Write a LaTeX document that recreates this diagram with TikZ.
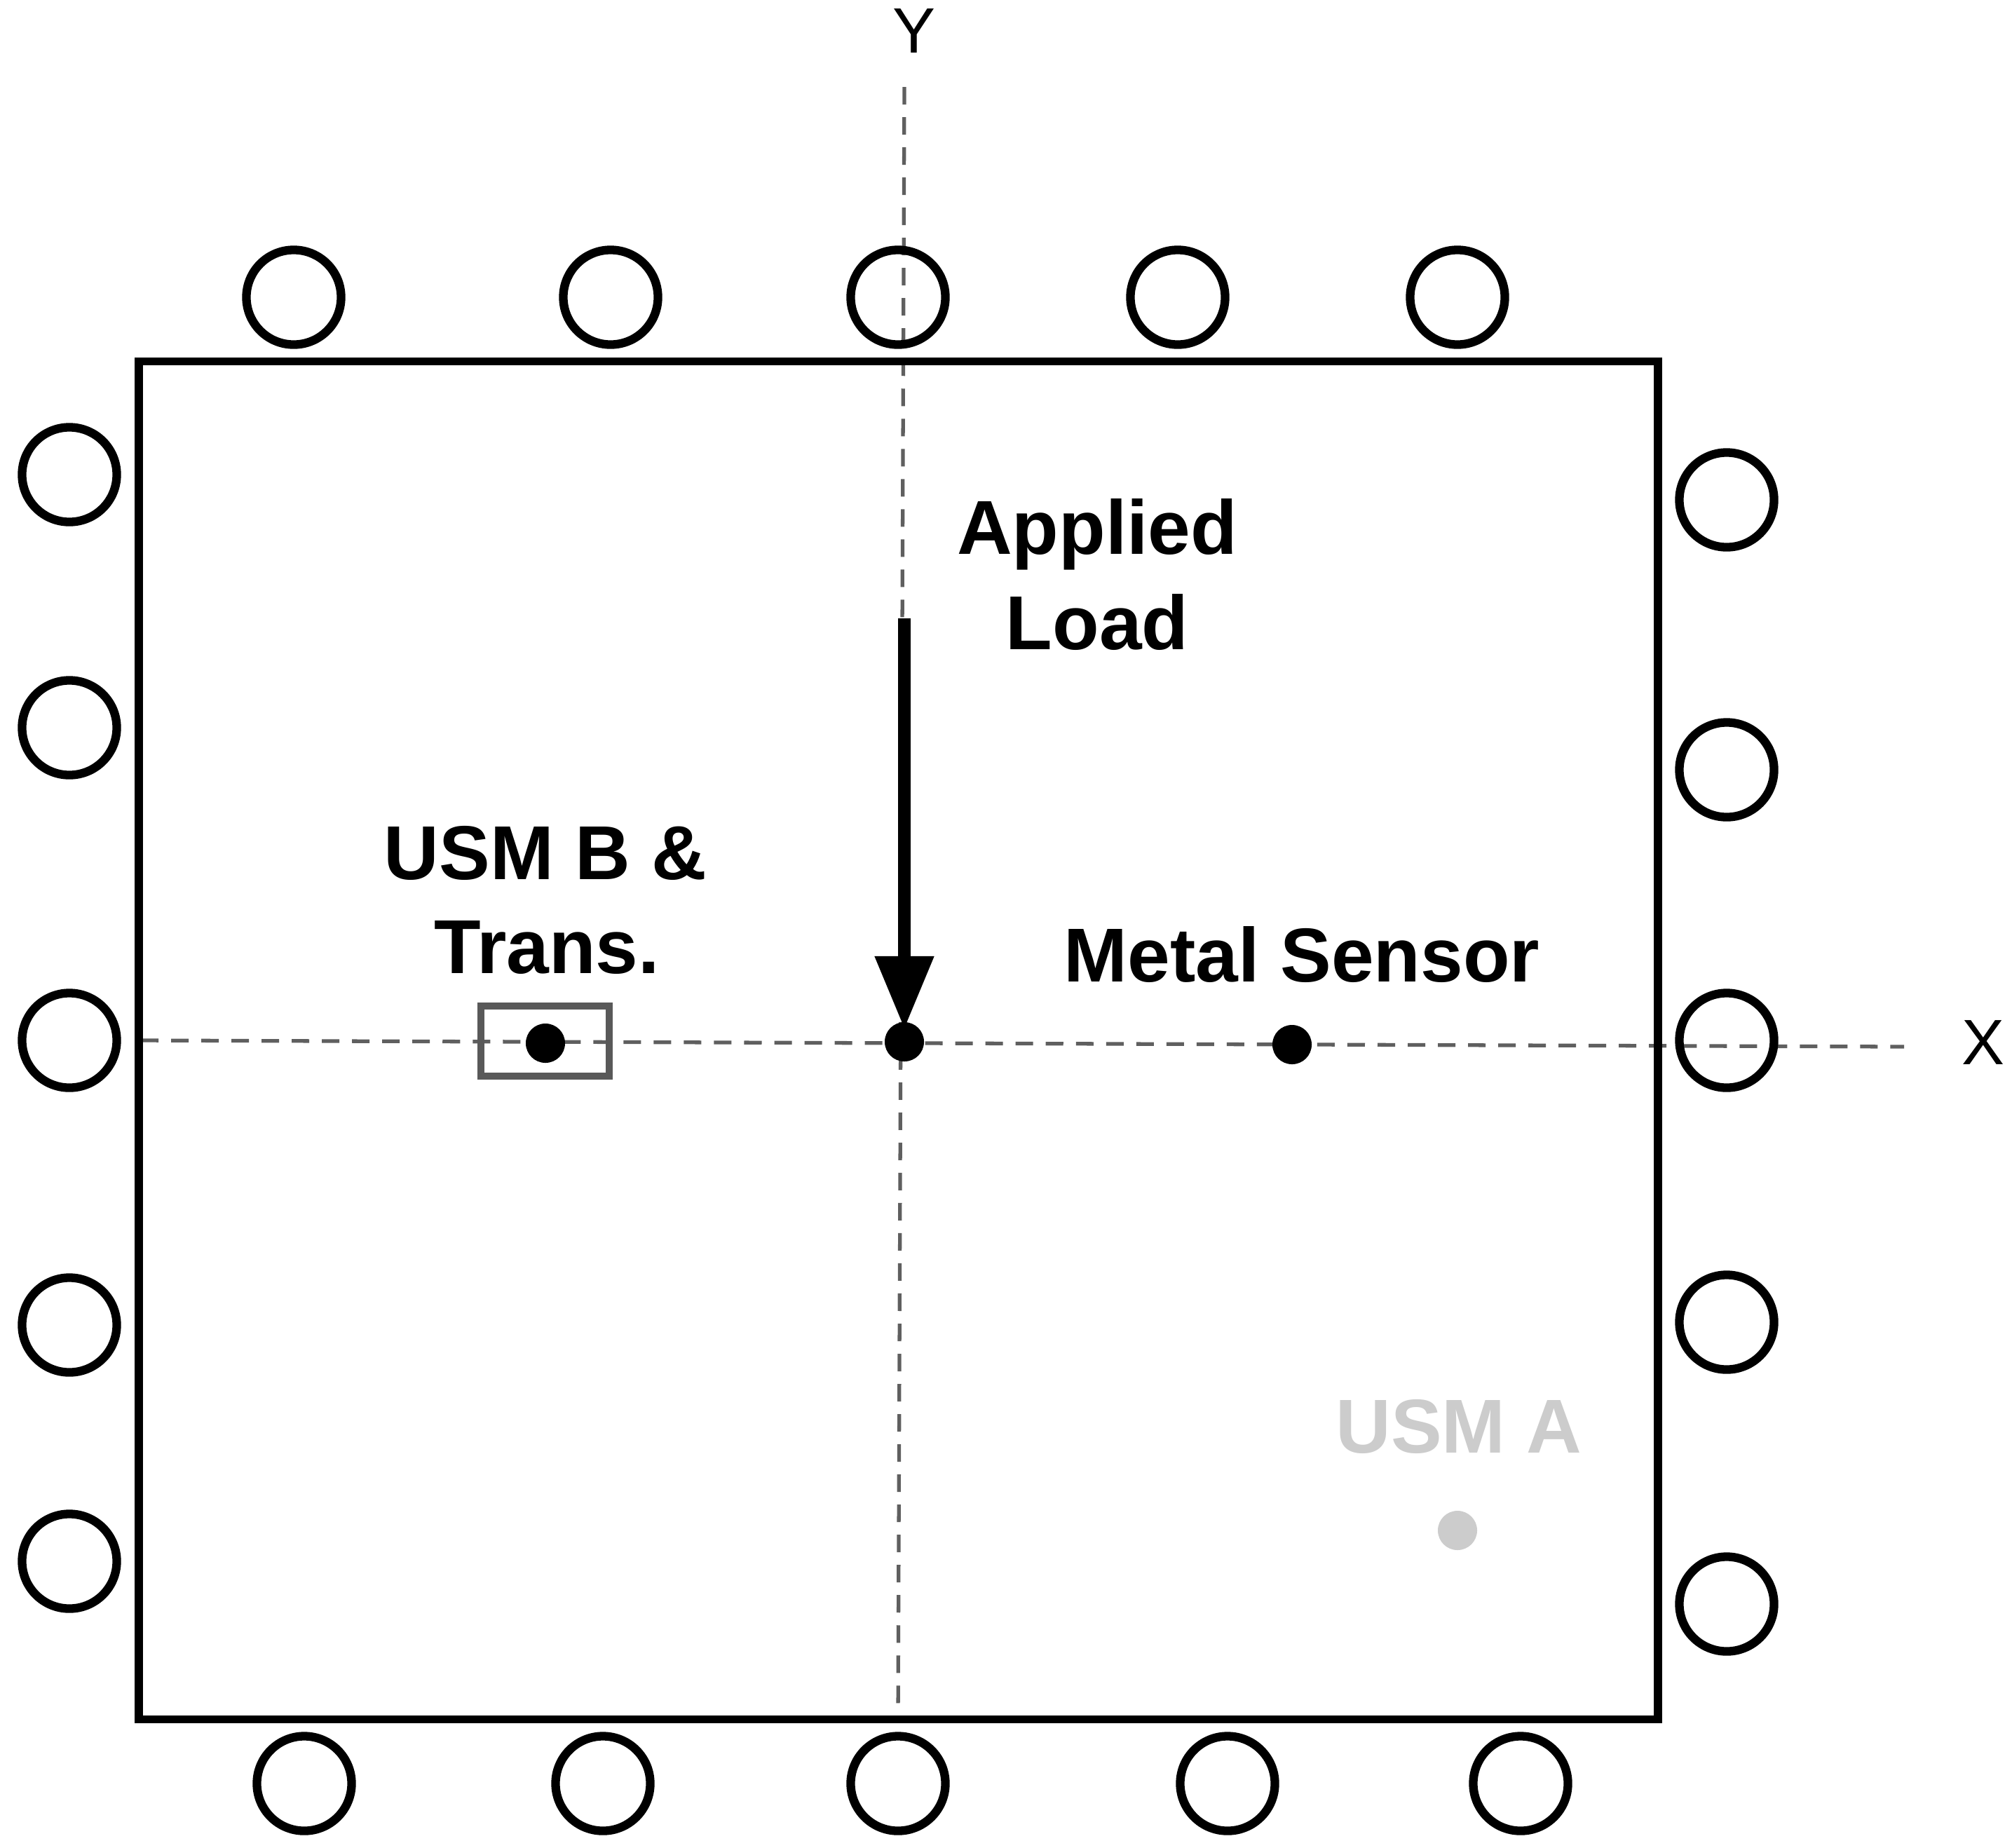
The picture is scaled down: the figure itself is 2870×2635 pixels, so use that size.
\documentclass[tikz,border=0pt]{standalone}
\usepackage{fontspec}
\setmainfont{Liberation Sans}
\usetikzlibrary{arrows.meta}
\definecolor{axisgray}{HTML}{5F5F5F}
\definecolor{boxgray}{HTML}{595959}
\definecolor{usmgray}{HTML}{CCCCCC}
\tikzset{
  roller/.style={circle,draw=black,line width=3.5pt,minimum size=1.35cm,inner sep=0pt},
  plate/.style={rectangle,draw=black,line width=3.3pt,minimum width=21.66cm,minimum height=19.36cm,inner sep=0pt},
  sensorbox/.style={rectangle,draw=boxgray,line width=2.6pt,minimum width=1.83cm,minimum height=1.00cm,inner sep=0pt},
  sensordot/.style={circle,fill=black,minimum size=0.56cm,inner sep=0pt},
  usmdot/.style={circle,fill=usmgray,minimum size=0.56cm,inner sep=0pt},
  axisline/.style={draw=axisgray,line width=1.5pt,dash pattern=on 0.25cm off 0.18cm},
  loadarrow/.style={draw=black,line width=5pt,-{Triangle[length=1.04cm,width=0.80cm]}},
  biglabel/.style={anchor=base,inner sep=0pt,font=\fontsize{31}{31}\selectfont\bfseries},
  axislabel/.style={anchor=base,inner sep=0pt,font=\fontsize{26}{26}\selectfont},
}
\begin{document}
\begin{tikzpicture}[x=0.01cm,y=-0.01cm]
\fill[white] (0,0) rectangle (2870,2635);
\useasboundingbox (0,0) rectangle (2870,2635);
% axes
\coordinate (ytop) at (1290,124);
\coordinate (ybot) at (1281,2452);
\coordinate (xleft) at (201,1484);
\coordinate (xright) at (2716,1493);
\draw[axisline] (ytop) -- (ybot);
\draw[axisline] (xleft) -- (xright);
% plate
\node[plate] (plate) at (1281.5,1484) {};
% rollers
\foreach \n/\x in {t1/419,t2/871,t3/1281,t4/1680,t5/2079}
  \node[roller] (\n) at (\x,424) {};
\foreach \n/\x in {b1/434,b2/860,b3/1281,b4/1751,b5/2169}
  \node[roller] (\n) at (\x,2544) {};
\foreach \n/\y in {l1/677,l2/1038,l3/1484,l4/1890,l5/2227}
  \node[roller] (\n) at (99,\y) {};
\foreach \n/\y in {r1/713,r2/1098,r3/1484,r4/1886,r5/2288}
  \node[roller] (\n) at (2463,\y) {};
% sensors
\node[sensorbox] (transbox) at (777.5,1485) {};
\node[sensordot] (usmb) at (778,1488) {};
\node[sensordot] (centre) at (1290,1486) {};
\node[sensordot] (metal) at (1843,1490) {};
\node[usmdot] (usma) at (2079,2183) {};
% load
\coordinate (loadtop) at (1290,882);
\coordinate (loadtip) at (1290,1468);
\draw[loadarrow] (loadtop) -- (loadtip);
% labels
\node[biglabel] (applied) at (1565,790) {Applied};
\node[biglabel] (load) at (1565,926) {Load};
\node[biglabel] (usmbl) at (778,1254) {USM B \&};
\node[biglabel] (transl) at (780,1388) {Trans.};
\node[biglabel] (metall) at (1857,1400) {Metal Sensor};
\node[biglabel,text=usmgray] (usmal) at (2081,2072) {USM A};
\node[axislabel] (ylabel) at (1304,75) {Y};
\node[axislabel] (xlabel) at (2829,1518) {X};
\end{tikzpicture}
\end{document}
